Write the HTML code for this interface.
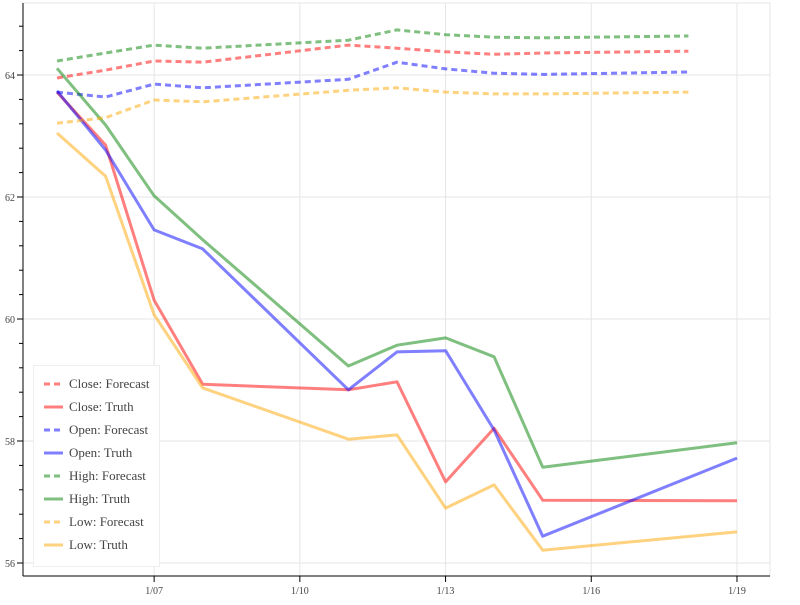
<!DOCTYPE html>
<html><head><meta charset="utf-8"><style>
body{margin:0;background:#fff;}
svg text{font-family:"Liberation Serif",serif;}
</style></head><body>
<svg id="chart" width="800" height="600" xmlns="http://www.w3.org/2000/svg"></svg>
<script>
const truthDays=[5,6,7,8,11,12,13,14,15,19];
const fcDays=[5,6,7,8,11,12,13,14,15,18];
const closeTruth=[63.72,62.85,60.31,58.93,58.84,58.97,57.33,58.21,57.03,57.02];
const openTruth=[63.74,62.77,61.46,61.15,58.84,59.46,59.48,58.18,56.44,57.72];
const highTruth=[64.11,63.18,62.02,61.3,59.23,59.57,59.69,59.38,57.57,57.97];
const lowTruth=[63.05,62.34,60.07,58.87,58.03,58.1,56.9,57.28,56.21,56.51];
const closeFc=[63.95,64.08,64.23,64.21,64.49,64.44,64.38,64.34,64.36,64.39];
const openFc=[63.72,63.64,63.85,63.79,63.93,64.21,64.1,64.03,64.01,64.05];
const highFc=[64.23,64.36,64.49,64.44,64.57,64.74,64.66,64.62,64.61,64.64];
const lowFc=[63.21,63.3,63.59,63.56,63.75,63.79,63.72,63.69,63.69,63.72];
const xTickDays=[7,10,13,16,19];
const xTickLabels=["1/07","1/10","1/13","1/16","1/19"];
const yTicks=[56,58,60,62,64];

const NS="http://www.w3.org/2000/svg";
const svg=document.getElementById('chart');
const X=d=>57+(d-5)*48.57;
const Y=v=>75+(64-v)*61;
function el(t,a,p){const e=document.createElementNS(NS,t);for(const k in a)e.setAttribute(k,a[k]);(p||svg).appendChild(e);return e;}
const L=23,R=770,T=3,B=576;
// frame
const frame=el('rect',{x:L,y:T,width:R-L,height:B-T,fill:'none',stroke:'#e5e5e5'});


// grid
yTicks.forEach(v=>{const g=el('line',{x1:L,x2:R,y1:Y(v),y2:Y(v),stroke:'#e5e5e5'});

});
xTickDays.forEach(d=>{const g=el('line',{x1:X(d),x2:X(d),y1:T,y2:B,stroke:'#e5e5e5'});

});
// series
const colors={close:'rgba(255,0,0,0.5)',open:'rgba(0,0,255,0.5)',high:'rgba(0,128,0,0.5)',low:'rgba(255,165,0,0.5)'};
function line(days,vals,col,dash,name){
 const d=days.map((dd,i)=>(i?'L':'M')+X(dd).toFixed(1)+','+Y(vals[i]).toFixed(1)).join('');
 const p=el('path',{d:d,fill:'none',stroke:col,'stroke-width':3,'stroke-dasharray':dash?'6,4':'none','stroke-linejoin':'round'});
 
 
}
line(fcDays,closeFc,colors.close,true,'close-forecast-line');
line(truthDays,closeTruth,colors.close,false,'close-truth-line');
line(fcDays,openFc,colors.open,true,'open-forecast-line');
line(truthDays,openTruth,colors.open,false,'open-truth-line');
line(fcDays,highFc,colors.high,true,'high-forecast-line');
line(truthDays,highTruth,colors.high,false,'high-truth-line');
line(fcDays,lowFc,colors.low,true,'low-forecast-line');
line(truthDays,lowTruth,colors.low,false,'low-truth-line');
// axes
el('line',{x1:L,x2:L,y1:T,y2:B,stroke:'#000'});
el('line',{x1:L,x2:R,y1:B,y2:B,stroke:'#000'});
for(let v=56;v<=64.81;v+=0.4){const major=Math.abs(v-Math.round(v/2)*2)<0.01;
 el('line',{x1:L-(major?6:4),x2:L,y1:Y(v),y2:Y(v),stroke:'#000'});}
yTicks.forEach(v=>{const t=el('text',{x:L-8,y:Y(v)+4,'text-anchor':'end','font-size':10,fill:'#444'});t.textContent=v;

});
xTickDays.forEach((d,i)=>{el('line',{x1:X(d),x2:X(d),y1:B,y2:B+6,stroke:'#000'});
 const t=el('text',{x:X(d),y:B+18,'text-anchor':'middle','font-size':10,fill:'#444'});t.textContent=xTickLabels[i];
 
 });
// legend
const lg=el('g',{});


el('rect',{x:33.5,y:365.5,width:126,height:201,fill:'#fff',stroke:'#eee'},lg);
const entries=[['Close: Forecast',colors.close,true],['Close: Truth',colors.close,false],['Open: Forecast',colors.open,true],['Open: Truth',colors.open,false],['High: Forecast',colors.high,true],['High: Truth',colors.high,false],['Low: Forecast',colors.low,true],['Low: Truth',colors.low,false]];
entries.forEach((e,i)=>{const y=384+i*23;
 const g=el('g',{},lg);
 
 
 el('line',{x1:44,x2:63,y1:y,y2:y,stroke:e[1],'stroke-width':3,'stroke-dasharray':e[2]?'6,4':'none'},g);
 const t=el('text',{x:69,y:y+4,'font-size':13,fill:'#444'},g);t.textContent=e[0];});
</script>
</body></html>
